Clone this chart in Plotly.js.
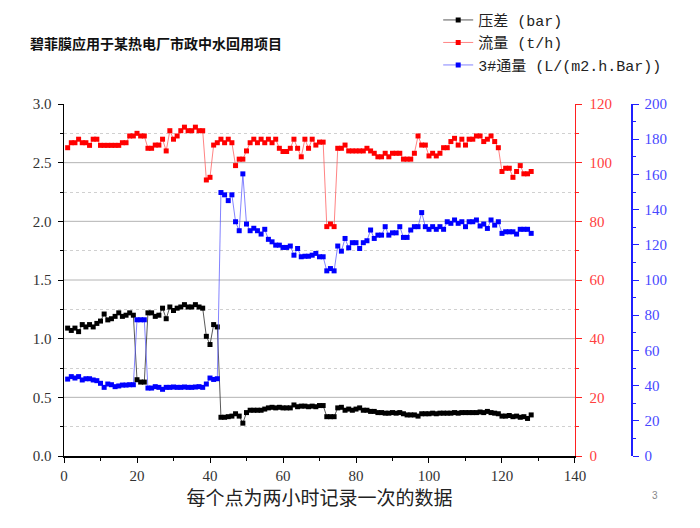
<!DOCTYPE html>
<html><head><meta charset="utf-8">
<script src="https://cdn.plot.ly/plotly-3.0.1.min.js"></script>
<style>html,body{margin:0;padding:0;background:#fff}</style>
</head><body><div id="chart" style="width:700px;height:528px"></div>
<script>
const chartTitle = "碧菲膜应用于某热电厂市政中水回用项目";
const xTitle = "每个点为两小时记录一次的数据";
const seriesNames = ["压差 (bar)", "流量 (t/h)", "3#通量 (L/(m2.h.Bar))"];
const majorGridVals = [0.5, 1.0, 1.5, 2.0, 2.5];

// 压差 (bar) — left axis
const pressure = [
1.09,1.07,1.09,1.06,1.12,1.10,1.12,1.10,1.13,1.15,
1.21,1.16,1.17,1.19,1.22,1.19,1.20,1.22,1.20,0.65,
0.63,0.63,1.22,1.22,1.19,1.20,1.26,1.17,1.27,1.24,
1.26,1.27,1.29,1.27,1.27,1.29,1.27,1.26,1.02,0.95,
1.12,1.10,0.33,0.33,0.335,0.34,0.36,0.34,0.28,0.37,
0.39,0.39,0.39,0.39,0.40,0.41,0.415,0.41,0.415,0.41,
0.41,0.41,0.435,0.42,0.425,0.425,0.42,0.425,0.42,0.43,
0.43,0.335,0.335,0.335,0.41,0.415,0.39,0.40,0.39,0.40,
0.41,0.39,0.39,0.38,0.38,0.37,0.37,0.365,0.365,0.37,
0.365,0.37,0.36,0.35,0.35,0.35,0.34,0.36,0.36,0.36,
0.365,0.36,0.365,0.365,0.365,0.365,0.37,0.365,0.37,0.37,
0.37,0.37,0.37,0.375,0.37,0.38,0.37,0.365,0.36,0.34,
0.34,0.345,0.335,0.34,0.33,0.335,0.32,0.35];

// 流量 (t/h) — red right axis
const flow = [
105.1,106.8,106.8,108.0,106.8,106.8,105.9,108.0,108.0,105.9,
105.9,105.9,105.9,105.9,105.9,106.8,106.8,109.1,109.1,110.0,
109.1,109.1,104.9,104.9,106.0,106.0,108.0,104.0,110.9,108.0,
109.1,110.9,112.1,110.9,110.9,112.1,110.9,110.9,94.1,95.0,
106.0,106.8,108.0,106.8,108.0,106.8,99.0,101.2,101.2,104.0,
106.8,108.0,106.8,108.0,106.8,108.0,106.8,108.0,104.9,103.8,
103.8,104.9,108.0,104.9,102.0,108.0,104.9,108.0,106.0,107.0,
107.0,78.2,79.1,78.2,104.9,104.9,106.0,104.0,104.0,104.0,
104.0,104.0,104.9,104.0,103.2,102.0,102.0,103.2,102.0,103.2,
103.2,103.2,101.2,101.2,101.2,103.2,109.1,106.0,106.0,102.3,
103.2,102.3,103.2,105.1,105.1,107.2,108.3,106.0,108.0,106.0,
108.0,108.0,109.1,109.1,107.2,108.0,109.1,107.2,105.1,97.0,
98.1,98.1,95.0,97.0,99.0,96.2,96.2,97.0];

// 3#通量 — blue right axis
const flux = [
43.7,45.1,44.3,45.1,43.2,43.9,43.9,43.2,42.8,41.3,
39.0,40.9,40.5,39.4,39.8,40.3,40.3,40.5,40.5,77.4,
77.4,77.4,38.6,38.6,39.4,39.0,37.9,39.0,39.0,39.2,
39.0,39.0,39.2,39.0,39.0,39.2,39.4,39.0,40.9,44.3,
43.5,43.9,149.7,148.4,145.1,148.4,133.1,128.0,160.3,131.8,
128.0,129.4,128.0,126.1,128.8,123.1,121.7,119.8,119.8,118.5,
118.5,119.3,114.1,117.9,113.2,113.5,113.5,114.1,115.1,113.2,
113.2,105.2,106.5,105.2,119.3,116.4,123.6,118.3,121.2,121.2,
117.9,121.2,122.3,128.4,123.6,125.5,125.5,130.3,125.5,126.8,
126.8,130.3,124.2,124.2,128.4,130.3,130.3,138.3,130.3,128.8,
130.3,128.8,130.3,128.8,133.1,132.2,134.1,132.2,133.1,130.3,
133.1,133.1,134.1,130.7,131.8,129.3,134.1,131.2,133.1,126.5,
127.4,127.4,127.4,126.1,128.8,128.8,128.8,126.5];

const xIdx = pressure.map((_, i) => i + 1);

const cjk = "Noto Sans CJK SC, sans-serif";
const legendFont = "Liberation Mono, Noto Sans CJK SC, monospace";
const numFont = "Liberation Serif, serif";

const traces = [
  {x: xIdx, y: pressure, name: seriesNames[0], type: "scatter", mode: "lines+markers",
   line: {color: "rgba(60,60,60,0.85)", width: 1}, marker: {symbol: "square", size: 5, color: "#000"}, yaxis: "y"},
  {x: xIdx, y: flow, name: seriesNames[1], type: "scatter", mode: "lines+markers",
   line: {color: "rgba(255,90,90,0.75)", width: 1}, marker: {symbol: "square", size: 5, color: "#ff0000"}, yaxis: "y2"},
  {x: xIdx, y: flux, name: seriesNames[2], type: "scatter", mode: "lines+markers",
   line: {color: "rgba(90,90,255,0.75)", width: 1}, marker: {symbol: "square", size: 5, color: "#0000ff"}, yaxis: "y3"}
];

// solid major grid lines (the reference has none at the top edge)
const gridShapes = majorGridVals.map(v => ({
  type: "line", xref: "paper", x0: 0, x1: 0.872, yref: "y", y0: v, y1: v,
  line: {color: "#b4b4b4", width: 1}, layer: "below"
}));

const layout = {
  width: 700, height: 528,
  margin: {l: 64, r: 50, t: 104, b: 72, autoexpand: false},
  paper_bgcolor: "#fff", plot_bgcolor: "#fff",
  showlegend: true,
  shapes: gridShapes,
  title: {text: "<b>" + chartTitle + "</b>", xref: "container", x: 0.043, xanchor: "left",
          yref: "container", y: 0.917, yanchor: "middle",
          font: {family: cjk, size: 14, color: "#111"}},
  legend: {xref: "container", yref: "container", x: 0.626, y: 0.993, xanchor: "left", yanchor: "top",
           bgcolor: "rgba(0,0,0,0)",
           font: {family: legendFont, size: 15, color: "#222"}, itemwidth: 30, tracegroupgap: 0},
  xaxis: {domain: [0, 0.872], range: [0, 140], tick0: 0, dtick: 20, ticks: "outside", ticklen: 5,
          tickcolor: "#000", showline: true, linecolor: "#000", linewidth: 1.5, showgrid: false, zeroline: false,
          minor: {dtick: 10, ticks: "outside", ticklen: 3, tickcolor: "#000"},
          tickfont: {family: numFont, size: 15, color: "#333"}, automargin: false,
          title: {text: xTitle, standoff: 8, font: {family: cjk, size: 19, color: "#222"}}},
  yaxis: {range: [0, 3], tick0: 0, dtick: 0.5, tickformat: ".1f", ticks: "outside", ticklen: 5, tickcolor: "#000",
          ticklabelstandoff: 3,
          showline: true, linecolor: "#000", linewidth: 1.5, zeroline: false, showgrid: false,
          minor: {dtick: 0.25, ticks: "outside", ticklen: 3, tickcolor: "#000", showgrid: true, gridcolor: "#d0d0d0", griddash: "dot"},
          tickfont: {family: numFont, size: 15, color: "#333"}, automargin: false},
  yaxis2: {overlaying: "y", side: "right", anchor: "x", range: [0, 120], tick0: 0, dtick: 20,
           ticks: "outside", ticklen: 6, tickcolor: "#ff2020", showline: true, linecolor: "#ff2020", linewidth: 1.5,
           ticklabelstandoff: 4, showgrid: false, zeroline: false,
           minor: {dtick: 10, ticks: "outside", ticklen: 3, tickcolor: "#ff2020"},
           tickfont: {family: numFont, size: 15, color: "#ff4040"}, automargin: false},
  yaxis3: {overlaying: "y", side: "right", anchor: "free", position: 0.9676, range: [0, 200], tick0: 0, dtick: 20,
           ticks: "outside", ticklen: 6, tickcolor: "#2020ff", showline: true, linecolor: "#2020ff", linewidth: 1.5,
           ticklabelstandoff: 3, showgrid: false, zeroline: false,
           minor: {dtick: 10, ticks: "outside", ticklen: 3, tickcolor: "#2020ff"},
           tickfont: {family: numFont, size: 15, color: "#4848ff"}, automargin: false},
  annotations: [{text: "3", xref: "paper", yref: "paper", x: 1.017, y: -0.134, showarrow: false,
                 font: {family: "Liberation Sans, sans-serif", size: 10, color: "#888"}}]
};

Plotly.newPlot("chart", traces, layout, {displayModeBar: false, staticPlot: true});
</script>
</body></html>
